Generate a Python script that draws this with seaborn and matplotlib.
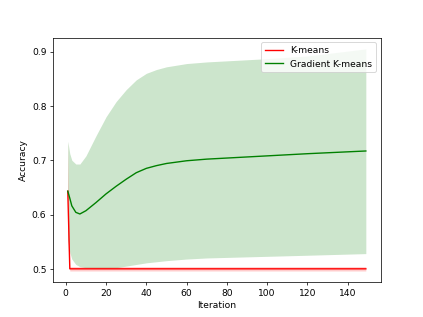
import matplotlib

matplotlib.use("Agg")
import matplotlib.pyplot as plt
import pandas as pd
import seaborn as sns

iteracoes = [1, 2, 3, 5, 7, 10, 15, 20, 25, 30, 35, 40, 45, 50, 60, 70, 80, 100, 120, 149]

kmeans_media = [0.643, 0.500, 0.500, 0.500, 0.500, 0.500, 0.500, 0.500, 0.500, 0.500,
                0.500, 0.500, 0.500, 0.500, 0.500, 0.500, 0.500, 0.500, 0.500, 0.500]
kmeans_inf = [0.553, 0.496, 0.496, 0.496, 0.496, 0.496, 0.496, 0.496, 0.496, 0.496,
              0.496, 0.496, 0.496, 0.496, 0.496, 0.496, 0.496, 0.496, 0.496, 0.496]
kmeans_sup = [0.735, 0.504, 0.504, 0.504, 0.504, 0.504, 0.504, 0.504, 0.504, 0.504,
              0.504, 0.504, 0.504, 0.504, 0.504, 0.504, 0.504, 0.504, 0.504, 0.504]

grad_media = [0.643, 0.630, 0.616, 0.604, 0.601, 0.607, 0.622, 0.638, 0.652, 0.665,
              0.677, 0.685, 0.690, 0.694, 0.699, 0.702, 0.704, 0.708, 0.712, 0.717]
grad_inf = [0.553, 0.530, 0.518, 0.508, 0.504, 0.502, 0.501, 0.501, 0.502, 0.505,
            0.508, 0.511, 0.513, 0.515, 0.518, 0.520, 0.521, 0.523, 0.525, 0.528]
grad_sup = [0.735, 0.712, 0.700, 0.693, 0.693, 0.708, 0.745, 0.780, 0.808, 0.830,
            0.848, 0.860, 0.867, 0.872, 0.878, 0.881, 0.883, 0.887, 0.892, 0.905]

df = pd.DataFrame({
    "iteracao": iteracoes * 2,
    "acuracia": kmeans_media + grad_media,
    "metodo": ["K-means"] * len(iteracoes) + ["Gradient K-means"] * len(iteracoes),
})

fig, ax = plt.subplots(figsize=(6.4, 4.8), dpi=66.1)

sns.lineplot(
    data=df,
    x="iteracao",
    y="acuracia",
    hue="metodo",
    palette={"K-means": "red", "Gradient K-means": "green"},
    ax=ax,
)

# Faixas de desvio
ax.fill_between(iteracoes, kmeans_inf, kmeans_sup, color="red", alpha=0.2, linewidth=0)
ax.fill_between(iteracoes, grad_inf, grad_sup, color="green", alpha=0.2, linewidth=0)

ax.set_xlabel("Iteration")
ax.set_ylabel("Accuracy")
ax.set_xticks([0, 20, 40, 60, 80, 100, 120, 140])
ax.set_yticks([0.5, 0.6, 0.7, 0.8, 0.9])
ax.set_yticklabels(["0.5", "0.6", "0.7", "0.8", "0.9"])
ax.legend(loc="upper right")

plt.savefig("out.png")
